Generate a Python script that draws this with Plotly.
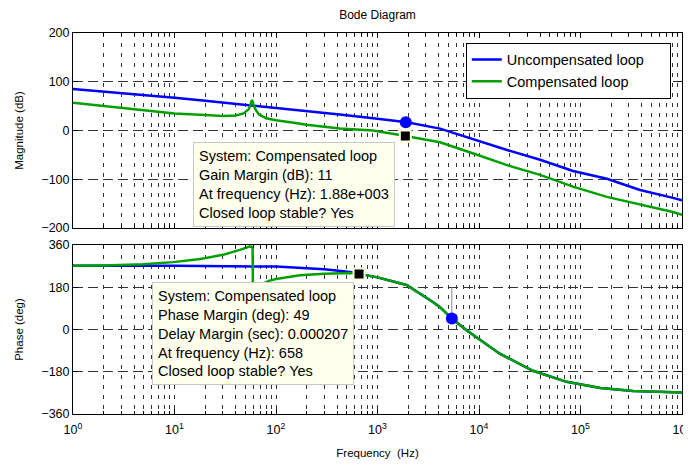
import plotly.graph_objects as go
from plotly.subplots import make_subplots

# magnitude (dB)
mag_freq_uncomp = [1, 2, 5, 10, 18, 44, 100, 200, 424, 1000, 1950, 4130, 8800,
                   18900, 40000, 84400, 182000, 386000, 815000, 1000000]
mag_uncomp = [85, 80, 73, 67, 62, 54, 46, 39, 33, 24, 17, 4, -18,
              -40, -60, -83, -99, -122, -138, -143]

mag_freq_comp = [1, 2, 5, 10, 20, 30, 40, 48, 54, 58, 62, 68, 80, 100, 150, 200,
                 424, 900, 1560, 1880, 2500, 4130, 8800, 18900, 40000, 84400,
                 182000, 386000, 815000, 1000000]
mag_comp = [57, 50, 41, 35, 32, 30, 31, 35, 44, 63, 45, 33, 25, 21, 16, 12,
            4, 0, -8, -11, -15, -24, -47, -71, -91, -115,
            -136, -152, -167, -173]

# phase (deg)
ph_freq_uncomp = [1, 10, 100, 172, 300, 535, 658, 1000, 1660, 1950, 3540, 4130,
                  5400, 7600, 16000, 34000, 73000, 157000, 330000, 1000000]
ph_uncomp = [272, 272, 268, 264, 257, 245, 238, 222, 197, 189, 116, 95,
             47, -4, -103, -176, -223, -249, -262, -268]

ph_freq_comp = [1, 2, 4.9, 9.7, 18, 30, 44, 55, 58.8, 59.2, 62, 66, 75, 85, 100,
                172, 300, 535, 658, 1000, 1660, 1950, 3540, 4130, 5400, 7600,
                16000, 34000, 73000, 157000, 330000, 1000000]
ph_comp = [272, 273, 278, 287, 300, 318, 339, 353, 352, 178, 172, 182, 195, 207, 215,
           231, 238, 241, 236, 222, 197, 189, 116, 95, 47, -4,
           -103, -176, -223, -249, -262, -268]

# margin markers
gm_freq, gm_val = 1880, -11
mag_dot_freq, mag_dot_val = 1900, 17
pm_freq, pm_val = 658, 236
ph_dot_freq, ph_dot_val = 5400, 47

decades = [1, 10, 100, 1000, 10000, 100000, 1000000]
decade_labels = ["10<sup>%d</sup>" % k for k in range(7)]
minor_vals = [m * 10 ** k for k in range(6) for m in range(2, 10)]

mag_ticks = [-200, -100, 0, 100, 200]
phase_ticks = [-360, -180, 0, 180, 360]

BLUE = "rgb(0,0,255)"
GREEN = "rgb(0,160,0)"
FONT = "Liberation Sans, Arial, sans-serif"

fig = make_subplots(rows=2, cols=1, shared_xaxes=False)

fig.add_trace(go.Scatter(x=mag_freq_uncomp, y=mag_uncomp, mode="lines",
                         name="Uncompensated loop" + "\u00a0" * 5,
                         line=dict(color=BLUE, width=2.5)), row=1, col=1)
fig.add_trace(go.Scatter(x=mag_freq_comp, y=mag_comp, mode="lines",
                         name="Compensated loop",
                         line=dict(color=GREEN, width=2.5)), row=1, col=1)
fig.add_trace(go.Scatter(x=ph_freq_uncomp, y=ph_uncomp, mode="lines", showlegend=False,
                         line=dict(color=BLUE, width=2.5)), row=2, col=1)
fig.add_trace(go.Scatter(x=ph_freq_comp, y=ph_comp, mode="lines", showlegend=False,
                         line=dict(color=GREEN, width=2.5)), row=2, col=1)

# margin line + markers
fig.add_trace(go.Scatter(x=[ph_dot_freq, ph_dot_freq], y=[180, ph_dot_val], mode="lines",
                         showlegend=False, line=dict(color="#888", width=1)), row=2, col=1)
fig.add_trace(go.Scatter(x=[mag_dot_freq], y=[mag_dot_val], mode="markers", showlegend=False,
                         marker=dict(color=BLUE, size=12)), row=1, col=1)
fig.add_trace(go.Scatter(x=[ph_dot_freq], y=[ph_dot_val], mode="markers", showlegend=False,
                         marker=dict(color=BLUE, size=12)), row=2, col=1)
fig.add_trace(go.Scatter(x=[gm_freq], y=[gm_val], mode="markers", showlegend=False,
                         marker=dict(color="black", symbol="square", size=11,
                                     line=dict(color="rgb(255,255,215)", width=2))), row=1, col=1)
fig.add_trace(go.Scatter(x=[pm_freq], y=[pm_val], mode="markers", showlegend=False,
                         marker=dict(color="black", symbol="square", size=11,
                                     line=dict(color="rgb(255,255,215)", width=2))), row=2, col=1)

xgrid = dict(showgrid=True, gridcolor="#333", gridwidth=1, griddash="4px,6px")
xcommon = dict(type="log", range=[0, 6], showline=True, linecolor="black", linewidth=1,
               mirror="allticks", ticks="inside", ticklen=5, tickcolor="black",
               tickmode="array", tickvals=decades, ticktext=decade_labels,
               automargin=False, ticklabeloverflow="allow",
               minor=dict(tickmode="array", tickvals=minor_vals, ticks="inside",
                          ticklen=3, tickcolor="black", **xgrid),
               tickfont=dict(size=12.5, color="black"), **xgrid)
ycommon = dict(showline=True, linecolor="black", linewidth=1, mirror="allticks",
               ticks="inside", ticklen=5, tickcolor="black", zeroline=False,
               automargin=False,
               showgrid=True, gridcolor="#333", gridwidth=1, griddash="10px,5px",
               tickfont=dict(size=12.5, color="black"))

fig.update_xaxes(domain=[0, 1], **xcommon)
fig.update_xaxes(showticklabels=False, row=1, col=1)
fig.update_xaxes(ticklabelstandoff=4,
                 title=dict(text="Frequency  (Hz)", font=dict(size=11.5, color="black"),
                            standoff=12), row=2, col=1)
fig.update_yaxes(domain=[0.488, 1], range=[-200, 200], tickvals=mag_ticks,
                 title=dict(text="Magnitude (dB)", font=dict(size=11.5, color="black"),
                            standoff=15), row=1, col=1, **ycommon)
fig.update_yaxes(domain=[0, 0.4436], range=[-360, 360], tickvals=phase_ticks,
                 title=dict(text="Phase (deg)", font=dict(size=11.5, color="black"),
                            standoff=15), row=2, col=1, **ycommon)

box = dict(xref="paper", yref="paper", xanchor="left", yanchor="top", align="left",
           showarrow=False, bgcolor="rgb(255,255,238)", bordercolor="#c8c8c8",
           borderwidth=1, borderpad=5, font=dict(size=14.5, color="black", family=FONT))
fig.add_annotation(x=0.197, y=0.714,
                   text="System: Compensated loop<br>Gain Margin (dB): 11<br>"
                        "At frequency (Hz): 1.88e+003<br>Closed loop stable? Yes", **box)
fig.add_annotation(x=0.130, y=0.3465,
                   text="System: Compensated loop<br>Phase Margin (deg): 49<br>"
                        "Delay Margin (sec): 0.000207<br>At frequency (Hz): 658<br>"
                        "Closed loop stable? Yes", **box)

# page body adds an 8px offset, so the figure is 8px smaller than the window
fig.update_layout(
    width=683, height=458,
    margin=dict(l=65, r=9, t=25, b=52),
    paper_bgcolor="white", plot_bgcolor="white",
    font=dict(family=FONT, color="black"),
    title=dict(text="Bode Diagram", x=0.5, xref="paper", y=1 - 7 / 458, yref="container",
               yanchor="middle", font=dict(size=12, color="black"), automargin=False),
    legend=dict(x=0.645, y=0.975, xanchor="left", yanchor="top", bgcolor="white",
                bordercolor="black", borderwidth=1,
                font=dict(size=14.5, color="black")),
)

fig.write_html("out.html")
